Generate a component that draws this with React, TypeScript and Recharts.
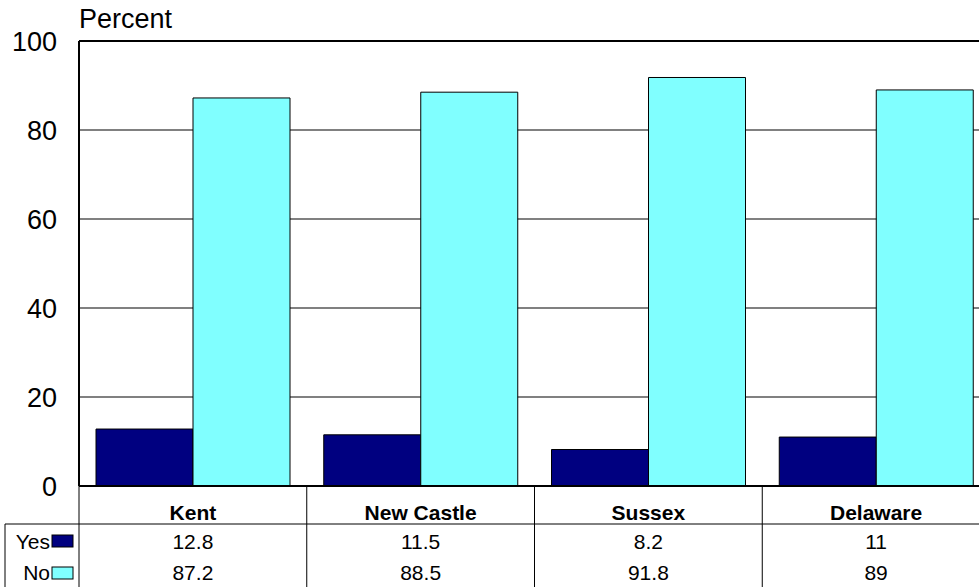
import React from "react";
import {
  ComposedChart,
  Bar,
  XAxis,
  YAxis,
  CartesianGrid,
  ReferenceLine,
} from "recharts";

const categories = ["Kent", "New Castle", "Sussex", "Delaware"];
const yesValues = [12.8, 11.5, 8.2, 11];
const noValues = [87.2, 88.5, 91.8, 89];
const yTicks = [0, 20, 40, 60, 80, 100];

const data = categories.map((name, i) => ({
  name,
  yes: yesValues[i],
  no: noValues[i],
}));

const FONT = '"Liberation Sans", Arial, sans-serif';
const CHART_W = 1000;
const CHART_H = 587;
const PLOT_LEFT = 79;
const PLOT_RIGHT = 990;
const PLOT_TOP = 41;
const PLOT_BOTTOM = 486;
const BAND = (PLOT_RIGHT - PLOT_LEFT) / categories.length;

const YES_COLOR = "#000080";
const NO_COLOR = "#80FFFF";

// one column of the data table under each category
function TableTick(props: any) {
  const { x, payload } = props;
  const i = payload.index;
  const left = x - BAND / 2;
  const right = x + BAND / 2;
  const rowLine = 524;
  return (
    <g fontFamily={FONT} fill="#000">
      <text x={x} y={520} textAnchor="middle" fontSize={21} fontWeight="bold">
        {categories[i]}
      </text>
      <text x={x} y={549} textAnchor="middle" fontSize={21}>
        {yesValues[i]}
      </text>
      <text x={x} y={580} textAnchor="middle" fontSize={21}>
        {noValues[i]}
      </text>
      <line x1={left} x2={right} y1={rowLine} y2={rowLine} stroke="#000" />
      <line x1={right} x2={right} y1={PLOT_BOTTOM} y2={CHART_H} stroke="#000" />
      {i === 0 && (
        <g>
          <line x1={left} x2={left} y1={PLOT_BOTTOM} y2={CHART_H} stroke="#000" />
          <line x1={5} x2={left} y1={rowLine} y2={rowLine} stroke="#000" />
          <line x1={5} x2={5} y1={rowLine} y2={CHART_H} stroke="#000" />
          <text x={50} y={549} textAnchor="end" fontSize={21}>
            Yes
          </text>
          <rect x={52} y={535} width={21} height={12} fill={YES_COLOR} stroke="#000" />
          <text x={50} y={580} textAnchor="end" fontSize={21}>
            No
          </text>
          <rect x={52} y={567} width={21} height={12} fill={NO_COLOR} stroke="#000" />
        </g>
      )}
    </g>
  );
}

export default function App() {
  return (
    <div
      style={{
        position: "absolute",
        left: 0,
        top: 0,
        width: 979,
        height: 587,
        overflow: "hidden",
        background: "#fff",
      }}
    >
      <div
        style={{
          position: "absolute",
          left: 79,
          top: 4,
          fontFamily: FONT,
          fontSize: 27,
          lineHeight: "30px",
          color: "#000",
        }}
      >
        Percent
      </div>
      <ComposedChart
        width={CHART_W}
        height={CHART_H}
        data={data}
        margin={{ top: PLOT_TOP, right: CHART_W - PLOT_RIGHT, left: 0, bottom: 0 }}
        barCategoryGap={17}
        barGap={0}
      >
        <CartesianGrid vertical={false} stroke="#808080" strokeWidth={2} />
        <XAxis
          dataKey="name"
          height={CHART_H - PLOT_BOTTOM}
          interval={0}
          tickLine={false}
          axisLine={{ stroke: "#000", strokeWidth: 2 }}
          tick={(p: any) => <TableTick {...p} />}
        />
        <YAxis
          width={PLOT_LEFT}
          domain={[0, 100]}
          ticks={yTicks}
          tickLine={false}
          tickSize={6}
          tickMargin={16}
          axisLine={{ stroke: "#000", strokeWidth: 2 }}
          tick={{ fontSize: 27, fill: "#000", fontFamily: FONT }}
        />
        <ReferenceLine y={100} stroke="#000" strokeWidth={2} />
        <Bar dataKey="yes" fill={YES_COLOR} stroke="#000" strokeWidth={1} isAnimationActive={false} />
        <Bar dataKey="no" fill={NO_COLOR} stroke="#000" strokeWidth={1} isAnimationActive={false} />
      </ComposedChart>
    </div>
  );
}
